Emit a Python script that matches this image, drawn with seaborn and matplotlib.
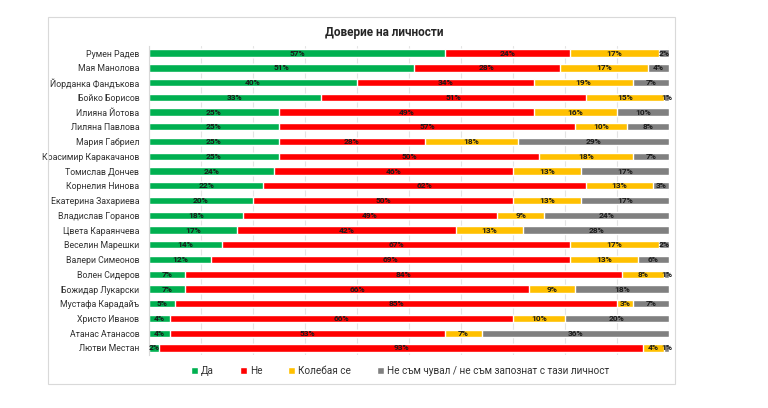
import matplotlib
matplotlib.use("Agg")
import matplotlib.pyplot as plt
from matplotlib.patches import Rectangle
import numpy as np
import pandas as pd
import seaborn as sns

names = [
    "Румен Радев", "Мая Манолова", "Йорданка Фандъкова", "Бойко Борисов",
    "Илияна Йотова", "Лиляна Павлова", "Мария Габриел", "Красимир Каракачанов",
    "Томислав Дончев", "Корнелия Нинова", "Екатерина Захариева", "Владислав Горанов",
    "Цвета Караянчева", "Веселин Марешки", "Валери Симеонов", "Волен Сидеров",
    "Божидар Лукарски", "Мустафа Карадайъ", "Христо Иванов", "Атанас Атанасов",
    "Лютви Местан",
]
yes = [57, 51, 40, 33, 25, 25, 25, 25, 24, 22, 20, 18, 17, 14, 12, 7, 7, 5, 4, 4, 2]
no = [24, 28, 34, 51, 49, 57, 28, 50, 46, 62, 50, 49, 42, 67, 69, 84, 66, 85, 66, 53, 93]
hesitant = [17, 17, 19, 15, 16, 10, 18, 18, 13, 13, 13, 9, 13, 17, 13, 8, 9, 3, 10, 7, 4]
unknown = [2, 4, 7, 1, 10, 8, 29, 7, 17, 3, 17, 24, 28, 2, 6, 1, 18, 7, 20, 36, 1]

series = ["Да", "Не", "Колебая се", "Не съм чувал / не съм запознат с тази личност"]
colors = ["#00B050", "#FF0000", "#FFC000", "#808080"]

sns.set_style("white")
plt.rcParams["font.family"] = ["Roboto", "DejaVu Sans"]

df = pd.DataFrame({s: v for s, v in zip(series, [yes, no, hesitant, unknown])}, index=names) / 100
cum = df.cumsum(axis=1)

fig = plt.figure(figsize=(7.68, 4.08), dpi=100)
ax = fig.add_axes([0.194, 0.129, 0.677, 0.759])

# stacked bars: draw cumulative totals from the back to the front
for s, c in reversed(list(zip(series, colors))):
    sns.barplot(x=cum[s].values, y=names, color=c, orient="h", width=0.5,
                saturation=1, ax=ax, label=s)
handles, labels = ax.get_legend_handles_labels()
if ax.get_legend() is not None:
    ax.get_legend().remove()

# segment labels
for s in series:
    centers = cum[s] - df[s] / 2
    for i, (xc, v) in enumerate(zip(centers, df[s])):
        ax.text(xc, i, f"{round(v * 100)}%", ha="center", va="center",
                fontsize=6, fontweight="bold", color="#1a1a1a")

ax.set_xlim(0, 1)
ax.set_xticks(np.arange(0, 1.01, 0.1))
ax.xaxis.grid(True, color="#e4e4e4", linewidth=0.8)
ax.set_axisbelow(True)
ax.tick_params(axis="x", length=0, labelbottom=False)
ax.tick_params(axis="y", length=0, labelsize=6.3, pad=7, labelcolor="#333333")
ax.set_xlabel("")
ax.set_ylabel("")
for side in ["top", "right", "bottom"]:
    ax.spines[side].set_visible(False)
ax.spines["left"].set_color("#d9d9d9")
ax.spines["left"].set_linewidth(0.8)

order = [labels.index(s) for s in series]
fig.legend([handles[i] for i in order], series, loc="center", ncol=4,
           bbox_to_anchor=(0.521, 0.09), frameon=False, fontsize=7.2,
           labelcolor="#333333", handlelength=0.7, handleheight=0.7,
           handletextpad=0.3, columnspacing=2.6)

fig.text(0.5, 0.92, "Доверие на личности", ha="center", va="center",
         fontsize=8.5, fontweight="bold")

fig.patches.append(Rectangle((48 / 768, 1 - 384 / 408), 627 / 768, 367 / 408,
                             transform=fig.transFigure, fill=False,
                             edgecolor="#d9d9d9", linewidth=0.8))

fig.savefig("out.png", dpi=100)
